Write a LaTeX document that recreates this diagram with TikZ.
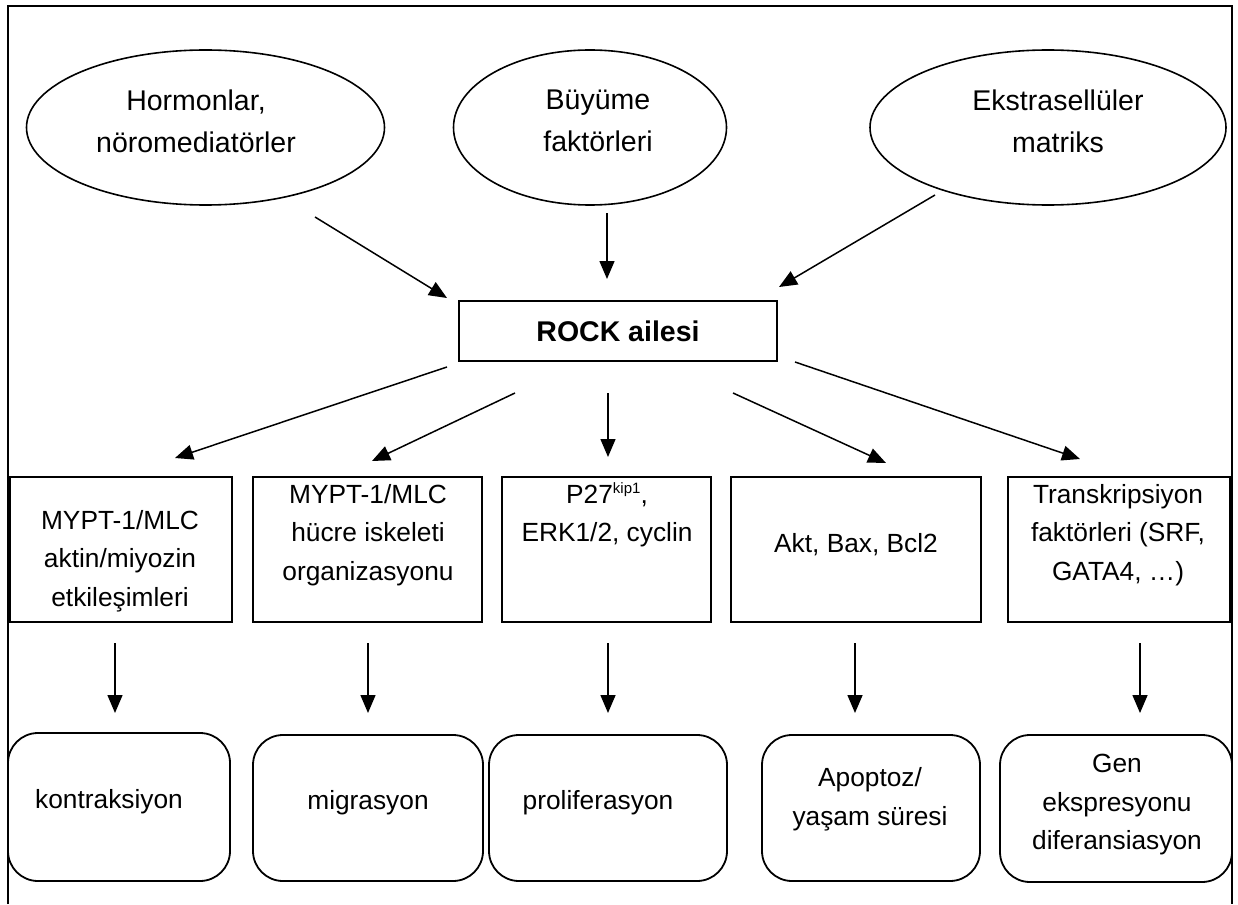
\documentclass[tikz,border=0pt]{standalone}
\usepackage{fontspec}
\setmainfont{Liberation Sans}
\usetikzlibrary{shapes.geometric,arrows.meta}
\begin{document}
\begin{tikzpicture}[x=1pt,y=-1pt,
  every node/.style={inner sep=0pt, align=center},
  big/.style={font=\fontsize{28.5}{42}\selectfont},
  txt/.style={font=\fontsize{26.3}{38.5}\selectfont},
  oval/.style={draw, line width=1.6pt, ellipse},
  box/.style={draw, line width=2pt, rectangle},
  rbox/.style={draw, line width=1.8pt, rectangle, rounded corners=30pt},
  arr/.style={line width=1.5pt, -{Triangle[length=18pt,width=15pt]}},
  frame/.style={line width=1.8pt}]
\useasboundingbox (0,0) rectangle (1238,904);
% outer frame (open at the bottom)
\draw[frame] (8,904) -- (8,6) -- (1232,6) -- (1232,904);

% top ellipses
\node[oval, minimum width=358pt, minimum height=155pt] (e1) at (205.5,127.5) {};
\node[oval, minimum width=273pt, minimum height=155pt] (e2) at (590,127.5) {};
\node[oval, minimum width=356pt, minimum height=155pt] (e3) at (1048,127.5) {};
\node[big] (e1t) at (196,121) {Hormonlar,\\nöromediatörler};
\node[big] (e2t) at (598,121) {Büyüme\\faktörleri};
\node[big] (e3t) at (1058,121) {Ekstrasellüler\\matriks};

% ROCK box
\node[box, minimum width=318pt, minimum height=60pt, font=\fontsize{28.5}{34}\selectfont\bfseries] (rock) at (618,331) {ROCK ailesi};

% middle boxes
\node[box, minimum width=222pt, minimum height=145pt] (m1) at (121,549.5) {};
\node[box, minimum width=229pt, minimum height=145pt] (m2) at (367.5,549.5) {};
\node[box, minimum width=209pt, minimum height=145pt] (m3) at (606.5,549.5) {};
\node[box, minimum width=250pt, minimum height=145pt] (m4) at (856,549.5) {};
\node[box, minimum width=222pt, minimum height=145pt] (m5) at (1119,549.5) {};
\node[txt] (m1t) at (120,561) {MYPT-1/MLC\\aktin/miyozin\\etkileşimleri};
\node[txt] (m2t) at (368,535) {MYPT-1/MLC\\hücre iskeleti\\organizasyonu};
\node[txt] (m3t) at (607,515) {P27\raisebox{10pt}{\fontsize{15}{15}\selectfont kip1},\\ERK1/2, cyclin};
\node[txt] (m4t) at (856,545) {Akt, Bax, Bcl2};
\node[txt] (m5t) at (1118,535) {Transkripsiyon\\faktörleri (SRF,\\GATA4, \dots)};

% bottom rounded boxes
\node[rbox, minimum width=222pt, minimum height=148pt] (b1) at (119,807) {};
\node[rbox, minimum width=230pt, minimum height=146pt] (b2) at (368,808) {};
\node[rbox, minimum width=238pt, minimum height=146pt] (b3) at (608,808) {};
\node[rbox, minimum width=218pt, minimum height=146pt] (b4) at (871,808) {};
\node[rbox, minimum width=232pt, minimum height=147pt] (b5) at (1116,808.5) {};
\node[txt] (b1t) at (109,802) {kontraksiyon};
\node[txt] (b2t) at (368,803) {migrasyon};
\node[txt] (b3t) at (598,803) {proliferasyon};
\node[txt] (b4t) at (870,799) {Apoptoz/\\yaşam süresi};
\node[txt] (b5t) at (1117,805) {Gen\\ekspresyonu\\diferansiasyon};

% connector end points
\coordinate (a1s) at (315,217);  \coordinate (a1e) at (447,298);
\coordinate (a2s) at (607,213);  \coordinate (a2e) at (607,279);
\coordinate (a3s) at (935,195);  \coordinate (a3e) at (779,287);
\coordinate (r1s) at (447,367);  \coordinate (r1e) at (175,458);
\coordinate (r2s) at (515,393);  \coordinate (r2e) at (372,461);
\coordinate (r3s) at (608,393);  \coordinate (r3e) at (608,457);
\coordinate (r4s) at (733,393);  \coordinate (r4e) at (886,463);
\coordinate (r5s) at (795,362);  \coordinate (r5e) at (1080,459);
\foreach \i/\x in {1/115,2/368,3/608,4/855,5/1140}{
  \coordinate (d\i s) at (\x,643);
  \coordinate (d\i e) at (\x,713);
}

% connectors
\draw[arr] (a1s) -- (a1e);
\draw[arr] (a2s) -- (a2e);
\draw[arr] (a3s) -- (a3e);
\draw[arr] (r1s) -- (r1e);
\draw[arr] (r2s) -- (r2e);
\draw[arr] (r3s) -- (r3e);
\draw[arr] (r4s) -- (r4e);
\draw[arr] (r5s) -- (r5e);
\foreach \i in {1,...,5}{
  \draw[arr] (d\i s) -- (d\i e);
}
\end{tikzpicture}
\end{document}
